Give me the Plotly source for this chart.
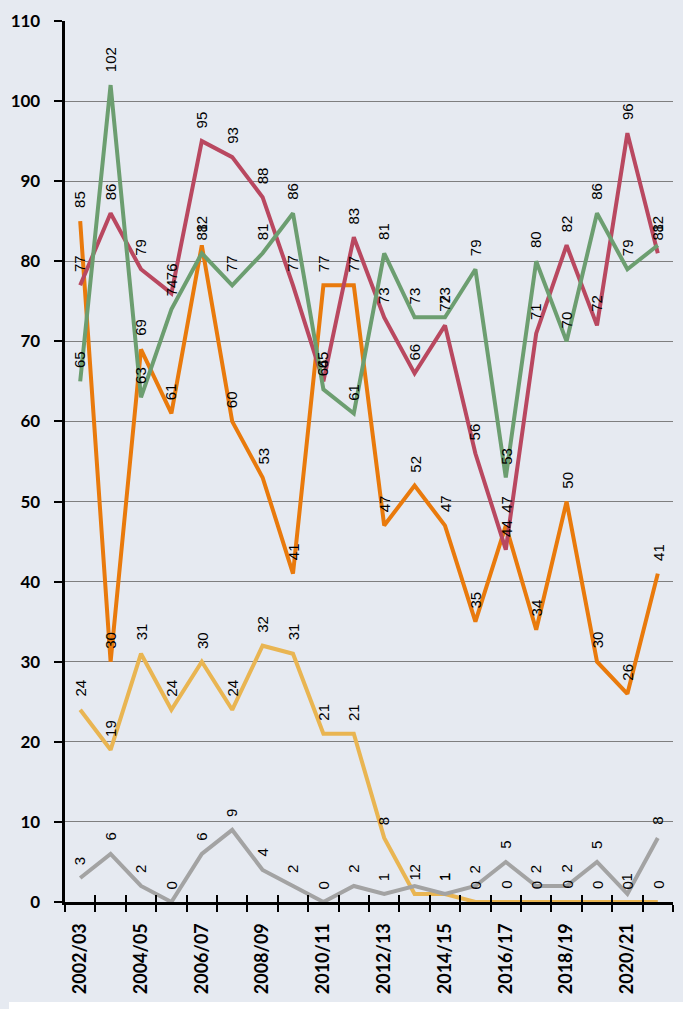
import plotly.graph_objects as go

years = ["2002/03", "2003/04", "2004/05", "2005/06", "2006/07", "2007/08", "2008/09",
         "2009/10", "2010/11", "2011/12", "2012/13", "2013/14", "2014/15", "2015/16",
         "2016/17", "2017/18", "2018/19", "2019/20", "2020/21", "2021/22"]
tick_labels = [y if i % 2 == 0 else "" for i, y in enumerate(years)]

yellow_vals = [24, 19, 31, 24, 30, 24, 32, 31, 21, 21, 8, 1, 1, 0, 0, 0, 0, 0, 0, 0]
gray_vals = [3, 6, 2, 0, 6, 9, 4, 2, 0, 2, 1, 2, 1, 2, 5, 2, 2, 5, 1, 8]
orange_vals = [85, 30, 69, 61, 82, 60, 53, 41, 77, 77, 47, 52, 47, 35, 47, 34, 50, 30, 26, 41]
red_vals = [77, 86, 79, 76, 95, 93, 88, 77, 65, 83, 73, 66, 72, 56, 44, 71, 82, 72, 96, 81]
green_vals = [65, 102, 63, 74, 81, 77, 81, 86, 64, 61, 81, 73, 73, 79, 53, 80, 70, 86, 79, 82]

y_ticks = list(range(0, 111, 10))

BG = "#E6EAF1"
PAD = "\u2002\u2009"
series = [
    ("yellow", yellow_vals, "#E9B552", "x"),
    ("gray", gray_vals, "#A3A3A3", "x"),
    ("orange", orange_vals, "#E97A0C", "x"),
    ("red", red_vals, "#B94860", "x"),
    ("green", green_vals, "#6C9E70", "x2"),
]

fig = go.Figure()
annotations = []
for name, vals, color, xa in series:
    fig.add_trace(go.Scatter(x=years, y=vals, mode="lines", name=name,
                             line=dict(color=color, width=4),
                             xaxis=xa, yaxis="y", hoverinfo="skip"))
    for xv, yv in zip(years, vals):
        annotations.append(dict(x=xv, y=yv, xref="x", yref="y", text=str(yv),
                                showarrow=False, textangle=-90,
                                xanchor="center", yanchor="bottom", yshift=11,
                                font=dict(family="Liberation Sans", size=15, color="black")))

axis_common = dict(type="category", categoryorder="array", categoryarray=years,
                   range=[-0.5, len(years) - 0.5], tickson="boundaries")

fig.update_layout(
    width=683, height=1009,
    margin=dict(l=65, r=10, t=21, b=107),
    paper_bgcolor=BG, plot_bgcolor=BG,
    showlegend=False,
    xaxis=dict(**axis_common,
               tickvals=years, ticktext=[t + PAD if t else "" for t in tick_labels],
               tickangle=-90,
               ticks="outside", ticklen=7, tickwidth=2, tickcolor="black",
               showline=True, linecolor="black", linewidth=2.5,
               showgrid=False, zeroline=False,
               tickfont=dict(family="Lato", size=18, color="black", weight="bold")),
    xaxis2=dict(**axis_common, overlaying="x", anchor="y", side="bottom",
                tickvals=years, ticktext=["" for _ in years],
                ticks="inside", ticklen=7, tickwidth=2, tickcolor="black",
                showline=False, showgrid=False, zeroline=False, showticklabels=False),
    yaxis=dict(range=[0, 110], tickvals=y_ticks, ticktext=[str(v) + PAD for v in y_ticks],
               ticks="outside", ticklen=8,
               tickwidth=2, tickcolor="black", showline=True, linecolor="black",
               linewidth=2.5, showgrid=True, gridcolor="#7F7F7F", gridwidth=1,
               zeroline=False,
               tickfont=dict(family="Lato", size=17, color="black", weight="bold")),
    annotations=annotations,
    shapes=[dict(type="rect", xref="paper", yref="paper",
                 x0=(9 - 65) / 608, x1=(683 - 65) / 608,
                 y0=(902 - 1009) / 881, y1=(902 - 1002) / 881,
                 fillcolor="white", line=dict(width=0), layer="above")],
)

fig.write_html("out.html", config={"displayModeBar": False},
               post_script="document.body.style.margin='0';")
